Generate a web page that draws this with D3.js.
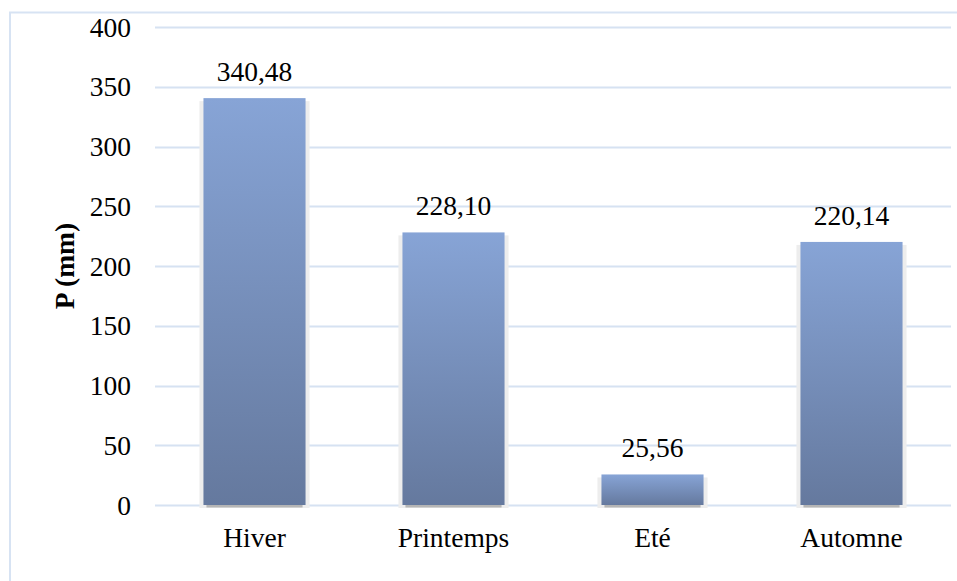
<!DOCTYPE html>
<html>
<head>
<meta charset="utf-8">
<script src="https://cdn.jsdelivr.net/npm/d3@7"></script>
</head>
<body style="margin:0">
<svg id="chart" width="957" height="581" style="display:block"></svg>
<script>
const categories = ["Hiver", "Printemps", "Eté", "Automne"];
const values = [340.48, 228.10, 25.56, 220.14];
const valueLabels = ["340,48", "228,10", "25,56", "220,14"];
const yTicks = [0, 50, 100, 150, 200, 250, 300, 350, 400];
const yTitle = "P (mm)";

const W = 957, H = 581;
const plot = { left: 155, right: 951, top: 27, bottom: 505 };
const FONT = "Liberation Serif";
const FS = 27.5;

const svg = d3.select("#chart");

const defs = svg.append("defs");
const grad = defs.append("linearGradient")
  .attr("id", "barGrad").attr("x1", 0).attr("y1", 0).attr("x2", 0).attr("y2", 1);
grad.append("stop").attr("offset", "0%").attr("stop-color", "#87A4D6");
grad.append("stop").attr("offset", "100%").attr("stop-color", "#65799E");

// chart frame (top and left edges visible)
svg.append("rect")
  .attr("x", 10).attr("y", 12.5)
  .attr("width", W + 20).attr("height", H + 20)
  .attr("fill", "none").attr("stroke", "#D7E3F3").attr("stroke-width", 2);

const x = d3.scaleBand()
  .domain(categories)
  .range([plot.left, plot.right])
  .paddingInner(0.487)
  .paddingOuter(0.2435);

const y = d3.scaleLinear()
  .domain([0, 400])
  .range([plot.bottom, plot.top]);

// gridlines
svg.append("g")
  .selectAll("line")
  .data(yTicks)
  .join("line")
  .attr("x1", plot.left).attr("x2", plot.right)
  .attr("y1", d => Math.round(y(d)) + 0.5)
  .attr("y2", d => Math.round(y(d)) + 0.5)
  .attr("stroke", "#D6E2F2").attr("stroke-width", 2);

function txt(sel) {
  return sel.attr("font-family", FONT).attr("font-size", FS).attr("fill", "#000");
}

// y tick labels
svg.append("g")
  .selectAll("text")
  .data(yTicks)
  .join("text")
  .call(txt)
  .attr("x", 131)
  .attr("y", d => y(d))
  .attr("dy", "0.35em")
  .attr("text-anchor", "end")
  .text(d => d);

const data = categories.map((c, i) => ({ c, v: values[i], label: valueLabels[i] }));

// bar shadows
const sh = svg.append("g");
sh.selectAll("rect.glow")
  .data(data)
  .join("rect")
  .attr("class", "glow")
  .attr("x", d => x(d.c) - 4)
  .attr("width", x.bandwidth() + 8)
  .attr("y", d => Math.min(y(d.v) + 3, y(0) - 2))
  .attr("height", d => y(0) + 3 - Math.min(y(d.v) + 3, y(0) - 2))
  .attr("fill", "#EDEDED");
sh.selectAll("rect.under")
  .data(data)
  .join("rect")
  .attr("class", "under")
  .attr("x", d => x(d.c) + 3)
  .attr("width", x.bandwidth() - 6)
  .attr("y", y(0))
  .attr("height", 2.5)
  .attr("fill", "#B5B5B5");

// bars
svg.append("g")
  .selectAll("rect")
  .data(data)
  .join("rect")
  .attr("x", d => x(d.c))
  .attr("width", x.bandwidth())
  .attr("y", d => y(d.v))
  .attr("height", d => y(0) - y(d.v))
  .attr("fill", "url(#barGrad)");

// value labels
svg.append("g")
  .selectAll("text")
  .data(data)
  .join("text")
  .call(txt)
  .attr("x", d => x(d.c) + x.bandwidth() / 2)
  .attr("y", d => y(d.v) - 17)
  .attr("text-anchor", "middle")
  .text(d => d.label);

// category labels
svg.append("g")
  .selectAll("text")
  .data(categories)
  .join("text")
  .call(txt)
  .attr("x", d => x(d) + x.bandwidth() / 2)
  .attr("y", 547)
  .attr("text-anchor", "middle")
  .text(d => d);

// y axis title
svg.append("text")
  .call(txt)
  .attr("font-weight", "bold")
  .attr("transform", `translate(74, ${(plot.top + plot.bottom) / 2}) rotate(-90)`)
  .attr("text-anchor", "middle")
  .text(yTitle);
</script>
</body>
</html>
